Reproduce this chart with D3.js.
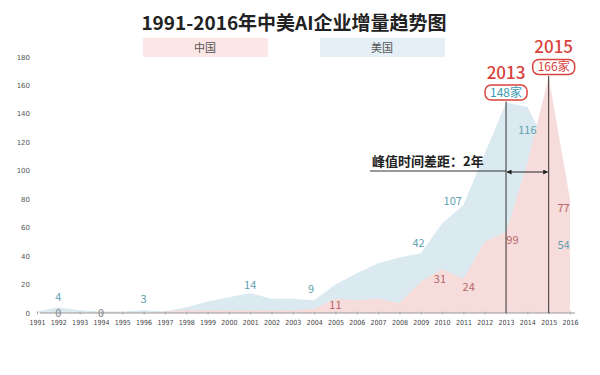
<!DOCTYPE html>
<html>
<head>
<meta charset="utf-8">
<script src="https://cdn.jsdelivr.net/npm/d3@7"></script>
<style>
  body { margin: 0; background: #fff; }
  svg { display: block; font-family: "Noto Sans CJK SC", "Noto Sans", sans-serif; }
</style>
</head>
<body>
<svg id="chart" width="600" height="375"></svg>
<script>
// 年份
var years = [1991, 1992, 1993, 1994, 1995, 1996, 1997, 1998, 1999, 2000, 2001, 2002, 2003,
             2004, 2005, 2006, 2007, 2008, 2009, 2010, 2011, 2012, 2013, 2014, 2015, 2016]

// 美国 AI 企业增量（面积轮廓读数）
var usValues = [1, 4, 2, 1, 1, 2, 1, 4, 8, 11, 14, 10, 10,
                9, 20, 28, 35, 39, 42, 63, 76, 112, 148, 145, 116, 54]

// 中国 AI 企业增量
var cnValues = [0, 0, 0, 0, 0, 0, 1, 2, 2, 2, 2, 2, 2,
                3, 10, 9, 10, 7, 22, 31, 24, 50, 57, 105, 166, 80]

var yTicks = [0, 20, 40, 60, 80, 100, 120, 140, 160, 180]

var seriesNames = ["中国", "美国"]

// 数据标签：year / at 为标签所在的数据坐标
var usLabels = [
    { year: 1992, at: 11.5, text: "4" },
    { year: 1996, at: 10, text: "3" },
    { year: 2001, at: 20, text: "14" },
    { year: 2003.85, at: 17, text: "9" },
    { year: 2008.9, at: 49, text: "42" },
    { year: 2010.5, at: 79, text: "107" },
    { year: 2014, at: 129, text: "116" },
    { year: 2015.7, at: 48, text: "54" }
]
var cnLabels = [
    { year: 1992, at: 0, text: "0" },
    { year: 1994, at: 0, text: "0" },
    { year: 2005, at: 5.5, text: "11" },
    { year: 2009.9, at: 24, text: "31" },
    { year: 2011.25, at: 18, text: "24" },
    { year: 2013.3, at: 51, text: "99" },
    { year: 2015.7, at: 74, text: "77" }
]

// 峰值
var peaks = [
    { year: 2013, value: 148, color: "#3d9cb3" },
    { year: 2015, value: 166, color: "#d9433b" }
]

var svg = d3.select("#chart")

var x = d3.scaleLinear().domain([1991, 2016]).range([37, 570])
var y = d3.scaleLinear().domain([0, 180]).range([313, 57])

var usColor = "#dbeaf1", cnColor = "#f7dcdc"
var usText = "#5e9fae", cnText = "#b86565"

// 标题
svg.append("text")
   .attr("x", 294)
   .attr("y", 30)
   .attr("text-anchor", "middle")
   .attr("font-size", 19)
   .attr("font-weight", "bold")
   .attr("fill", "#222")
   .text("1991-2016年中美AI企业增量趋势图")

// 图例
var legendX = [143, 320]
var legend = svg.selectAll(".legend")
                .data(seriesNames)
                .enter()
                .append("g")
                .attr("class", "legend")
                .attr("transform", function (d, i) { return "translate(" + legendX[i] + ",38)" })

legend.append("rect")
      .attr("width", 125)
      .attr("height", 19)
      .attr("fill", function (d, i) { return i == 0 ? "#fce6e6" : "#e4f0f5" })

legend.append("text")
      .attr("x", 62)
      .attr("y", 14)
      .attr("text-anchor", "middle")
      .attr("font-size", 11)
      .attr("fill", "#555")
      .text(function (d) { return d })

// y 轴刻度文字
svg.selectAll(".ytick")
   .data(yTicks)
   .enter()
   .append("text")
   .attr("class", "ytick")
   .attr("x", 30)
   .attr("y", function (d) { return y(d) + 2.5 })
   .attr("text-anchor", "end")
   .attr("font-size", 7)
   .attr("font-family", "DejaVu Sans")
   .attr("fill", "#555")
   .text(function (d) { return d })

// 面积
var area = d3.area()
             .x(function (d, i) { return x(years[i]) })
             .y0(y(0))
             .y1(function (d) { return y(d) })

svg.append("path")
   .datum(usValues)
   .attr("d", area)
   .attr("fill", usColor)

svg.append("path")
   .datum(cnValues)
   .attr("d", area)
   .attr("fill", cnColor)

// x 轴
var xAxis = d3.axisBottom(x)
              .tickValues(years)
              .tickFormat(d3.format("d"))
              .tickSize(3)

var gx = svg.append("g")
            .attr("transform", "translate(0," + y(0) + ")")
            .call(xAxis)

gx.select(".domain")
  .attr("d", "M40,0H575")
  .attr("stroke", "#999")

gx.selectAll(".tick line")
  .attr("stroke", "#aaa")
  .attr("y1", -1.5)
  .attr("y2", 1.5)

gx.selectAll(".tick text")
  .attr("y", 7)
  .attr("font-size", 7)
  .attr("font-family", "DejaVu Sans Condensed")
  .attr("fill", "#444")

// 数据标签
svg.selectAll(".us-label")
   .data(usLabels)
   .enter()
   .append("text")
   .attr("class", "us-label")
   .attr("x", function (d) { return x(d.year) })
   .attr("y", function (d) { return y(d.at) + 4 })
   .attr("text-anchor", "middle")
   .attr("font-size", 11)
   .attr("fill", usText)
   .text(function (d) { return d.text })

svg.selectAll(".cn-label")
   .data(cnLabels)
   .enter()
   .append("text")
   .attr("class", "cn-label")
   .attr("x", function (d) { return x(d.year) })
   .attr("y", function (d) { return y(d.at) + 4 })
   .attr("text-anchor", "middle")
   .attr("font-size", 11)
   .attr("fill", function (d) { return d.at == 0 ? "#888" : cnText })
   .text(function (d) { return d.text })

// 峰值竖线 + 标注（2015 的标注略向右偏）
var peak = svg.selectAll(".peak")
              .data(peaks)
              .enter()
              .append("g")
              .attr("class", "peak")

function cx(d, i) { return x(d.year) + (i == 1 ? 5 : 0) }

peak.append("line")
    .attr("x1", function (d) { return x(d.year) })
    .attr("x2", function (d) { return x(d.year) })
    .attr("y1", function (d) { return y(d.value) - 1 })
    .attr("y2", y(0))
    .attr("stroke", "#333")
    .attr("stroke-width", 1)

peak.append("rect")
    .attr("x", function (d, i) { return cx(d, i) - 21 })
    .attr("y", function (d) { return y(d.value) - 17.5 })
    .attr("width", 42)
    .attr("height", 15)
    .attr("rx", 6)
    .attr("fill", "#fff")
    .attr("stroke", "#d9433b")
    .attr("stroke-width", 1.5)

peak.append("text")
    .attr("x", cx)
    .attr("y", function (d) { return y(d.value) - 6 })
    .attr("text-anchor", "middle")
    .attr("font-size", 12)
    .attr("fill", function (d) { return d.color })
    .text(function (d) { return d.value + "家" })

peak.append("text")
    .attr("x", cx)
    .attr("y", function (d) { return y(d.value) - 24 })
    .attr("text-anchor", "middle")
    .attr("font-size", 17)
    .attr("font-weight", 500)
    .attr("fill", "#d9433b")
    .text(function (d) { return d.year })

// 峰值时间差距
svg.append("text")
   .attr("x", 372)
   .attr("y", 166)
   .attr("font-size", 13)
   .attr("font-weight", "bold")
   .attr("fill", "#222")
   .text("峰值时间差距：2年")

svg.append("line")
   .attr("x1", 370).attr("x2", x(2013))
   .attr("y1", 171).attr("y2", 171)
   .attr("stroke", "#333")
   .attr("stroke-width", 1.2)

svg.append("defs").selectAll("marker")
   .data(["arr"])
   .enter()
   .append("marker")
   .attr("id", function (d) { return d })
   .attr("viewBox", "0 0 10 10")
   .attr("refX", 9).attr("refY", 5)
   .attr("markerWidth", 5).attr("markerHeight", 5)
   .attr("orient", "auto-start-reverse")
   .append("path")
   .attr("d", "M0,0L10,5L0,10z")
   .attr("fill", "#222")

svg.append("line")
   .attr("x1", x(2013) + 1).attr("x2", x(2015) - 1)
   .attr("y1", 172).attr("y2", 172)
   .attr("stroke", "#222")
   .attr("stroke-width", 1)
   .attr("marker-start", "url(#arr)")
   .attr("marker-end", "url(#arr)")
</script>
</body>
</html>
